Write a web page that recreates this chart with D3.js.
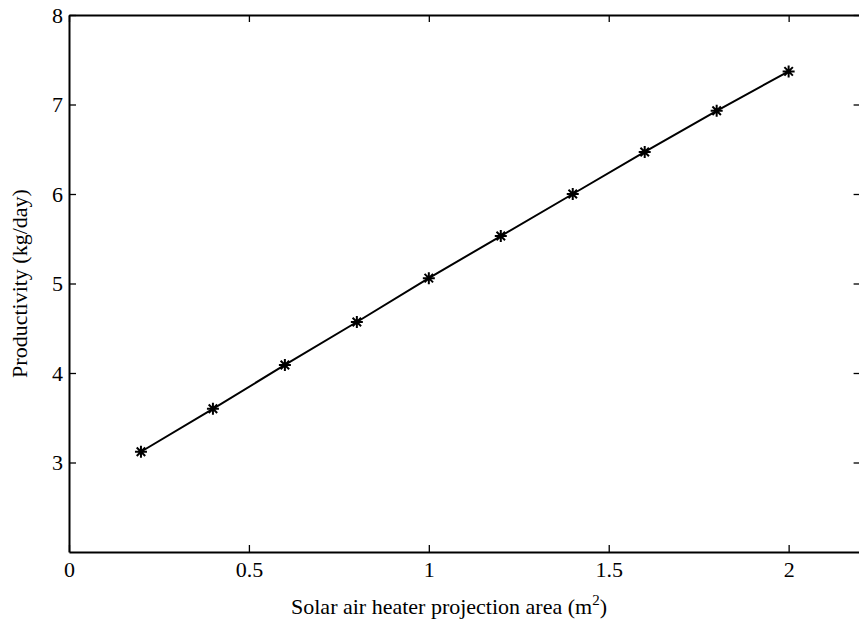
<!DOCTYPE html>
<html>
<head>
<meta charset="utf-8">
<script src="https://cdn.jsdelivr.net/npm/d3@7"></script>
<style>
  html, body { margin: 0; padding: 0; background: #fff; }
</style>
</head>
<body>
<svg id="chart" width="859" height="628"></svg>
<script>
// Collector area (m^2) and daily productivity (kg/day)
const area = [0.2, 0.4, 0.6, 0.8, 1.0, 1.2, 1.4, 1.6, 1.8, 2.0];
const productivity = [3.12, 3.60, 4.09, 4.57, 5.06, 5.53, 6.00, 6.47, 6.93, 7.37];
const xTicks = [0, 0.5, 1, 1.5, 2];
const yTicks = [3, 4, 5, 6, 7, 8];
const xDomain = [0, 2.2];
const yDomain = [2, 8];

const FONT = "'Times New Roman', 'Liberation Serif', Times, serif";
const FS = 22;

const svg = d3.select("#chart");
const plotLeft = 69, plotRight = 860.6, plotTop = 15, plotBottom = 552;

const x = d3.scaleLinear().domain(xDomain).range([plotLeft, plotRight]);
const y = d3.scaleLinear().domain(yDomain).range([plotBottom, plotTop]);

const tickLen = 7;
const fmt = d => String(d);

// Bottom axis with inward ticks
const gx = svg.append("g").attr("transform", `translate(0,${plotBottom})`)
  .call(d3.axisBottom(x).tickValues(xTicks).tickFormat(fmt).tickSizeInner(-tickLen).tickSizeOuter(0).tickPadding(9));
// Top axis ticks (mirrored, no labels)
const gxt = svg.append("g").attr("transform", `translate(0,${plotTop})`)
  .call(d3.axisTop(x).tickValues(xTicks).tickFormat("").tickSizeInner(-tickLen).tickSizeOuter(0));
// Left axis with inward ticks
const gy = svg.append("g").attr("transform", `translate(${plotLeft},0)`)
  .call(d3.axisLeft(y).tickValues(yTicks).tickFormat(fmt).tickSizeInner(-tickLen).tickSizeOuter(0).tickPadding(6));
// Right axis ticks (mirrored, no labels)
const gyr = svg.append("g").attr("transform", `translate(${plotRight},0)`)
  .call(d3.axisRight(y).tickValues(yTicks).tickFormat("").tickSizeInner(-tickLen).tickSizeOuter(0));

[gx, gxt, gy, gyr].forEach(g => {
  g.attr("font-family", FONT).attr("font-size", FS);
  g.select(".domain").attr("stroke", "#000").attr("stroke-width", 2);
  g.selectAll(".tick line").attr("stroke", "#000").attr("stroke-width", 1.3);
  g.selectAll(".tick text").attr("fill", "#000");
});
gx.selectAll(".tick text").attr("dy", "0.71em");

// Data line
const line = d3.line().x((d, i) => x(area[i])).y(d => y(d));
svg.append("path")
  .datum(productivity)
  .attr("fill", "none")
  .attr("stroke", "#000")
  .attr("stroke-width", 2)
  .attr("d", line);

// Asterisk markers
const r = 6;
const star = d3.path();
[0, 45, 90, 135].forEach(a => {
  const t = a * Math.PI / 180;
  star.moveTo(-r * Math.cos(t), -r * Math.sin(t));
  star.lineTo(r * Math.cos(t), r * Math.sin(t));
});
svg.append("g").selectAll("path")
  .data(productivity)
  .join("path")
  .attr("transform", (d, i) => `translate(${x(area[i])},${y(d)})`)
  .attr("d", star.toString())
  .attr("stroke", "#000")
  .attr("stroke-width", 2)
  .attr("fill", "none");

// Axis titles
const xt = svg.append("text")
  .attr("x", 449)
  .attr("y", 614)
  .attr("text-anchor", "middle")
  .attr("font-family", FONT)
  .attr("font-size", FS);
xt.append("tspan").text("Solar air heater projection area (m");
xt.append("tspan").attr("dy", -9).attr("font-size", 15).text("2");
xt.append("tspan").attr("dy", 9).text(")");

svg.append("text")
  .attr("transform", `translate(27,${(plotTop + plotBottom) / 2}) rotate(-90)`)
  .attr("text-anchor", "middle")
  .attr("font-family", FONT)
  .attr("font-size", FS)
  .text("Productivity (kg/day)");
</script>
</body>
</html>
